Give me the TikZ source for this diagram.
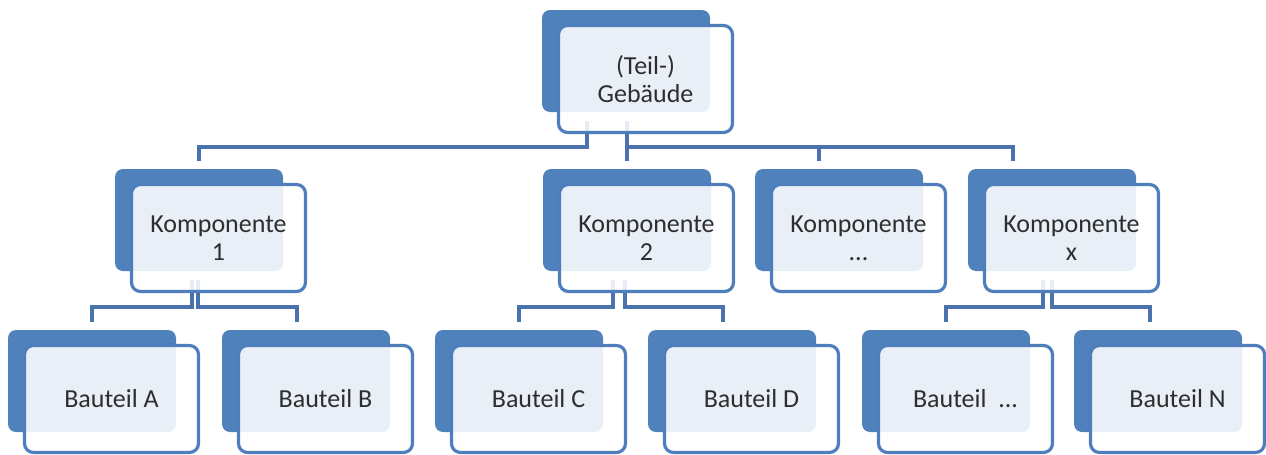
\documentclass[tikz,border=0pt]{standalone}
\usepackage{fontspec}
\setmainfont{Carlito}
\usetikzlibrary{backgrounds,calc}
\definecolor{darkblue}{HTML}{4F81BD}
\definecolor{rimblue}{HTML}{4F7EBD}
\definecolor{linkblue}{HTML}{4A72AD}
\definecolor{txtgray}{HTML}{2E2E2E}
\newcommand\tierbox[4]{%
  \node[backbox] (#1b) at (#2+84,#3+51) {};
  \node[frontbox] (#1) at (#2+103.5,#3+69) {#4};
}
\begin{document}
\begin{tikzpicture}[x=1pt,y=-1pt,
  backbox/.style={fill=darkblue, rounded corners=8pt, minimum width=168pt, minimum height=102pt, inner sep=0pt, outer sep=0pt},
  frontbox/.style={draw=rimblue, line width=3.2pt, fill=white, fill opacity=0.88, text opacity=1, rounded corners=9pt, minimum width=174pt, minimum height=107pt, inner sep=0pt, outer sep=0pt, align=center, text=txtgray, font=\fontsize{26}{28}\selectfont},
  conn/.style={draw=linkblue, line width=4pt, line join=miter}]
\useasboundingbox (0,0) rectangle (1266,455);
\tierbox{G}{542}{10}{(Teil-)\\Gebäude}
\tierbox{K1}{115}{169}{Komponente\\1}
\tierbox{K2}{543}{169}{Komponente\\2}
\tierbox{K3}{755}{169}{Komponente\\...}
\tierbox{K4}{968}{169}{Komponente\\x}
\tierbox{B1}{8}{330}{Bauteil A}
\tierbox{B2}{222}{330}{Bauteil B}
\tierbox{B3}{435}{330}{Bauteil C}
\tierbox{B4}{648}{330}{Bauteil D}
\tierbox{B5}{862}{330}{Bauteil\ \ ...}
\tierbox{B6}{1074}{330}{Bauteil N}
\begin{scope}[on background layer]
  \coordinate (yl1) at (0,147);
  \coordinate (yl2) at (0,307);
  \coordinate (g1) at ([xshift=-58.5pt,yshift=12pt]G.south);
  \coordinate (g2) at ([xshift=-18.5pt,yshift=12pt]G.south);
  \coordinate (k1t) at ([yshift=8pt]K1b.north);
  \coordinate (k2t) at ([yshift=8pt]K2b.north);
  \coordinate (k3t) at ([xshift=-20pt,yshift=8pt]K3b.north);
  \coordinate (k4t) at ([xshift=-39pt,yshift=8pt]K4b.north);
  \draw[conn] (g1) -- (g1 |- yl1) -| (k1t);
  \draw[conn] (g2) -- (g2 |- yl1) -| (k4t);
  \draw[conn] (g2) -- (g2 |- k2t);
  \draw[conn] (k3t |- yl1) -- (k3t);
  % Komponente 1
  \coordinate (k1a) at ([xshift=-26.5pt,yshift=12pt]K1.south);
  \coordinate (k1c) at ([xshift=-20.5pt,yshift=12pt]K1.south);
  \draw[conn] (k1a) -- (k1a |- yl2) -| ([yshift=8pt]B1b.north);
  \draw[conn] (k1c) -- (k1c |- yl2) -| ([xshift=-9pt,yshift=8pt]B2b.north);
  % Komponente 2
  \coordinate (k2a) at ([xshift=-33.5pt,yshift=12pt]K2.south);
  \coordinate (k2c) at ([xshift=-21.5pt,yshift=12pt]K2.south);
  \draw[conn] (k2a) -- (k2a |- yl2) -| ([yshift=8pt]B3b.north);
  \draw[conn] (k2c) -- (k2c |- yl2) -| ([xshift=-9pt,yshift=8pt]B4b.north);
  % Komponente x
  \coordinate (k4a) at ([xshift=-28.5pt,yshift=12pt]K4.south);
  \coordinate (k4c) at ([xshift=-19.5pt,yshift=12pt]K4.south);
  \draw[conn] (k4a) -- (k4a |- yl2) -| ([yshift=8pt]B5b.north);
  \draw[conn] (k4c) -- (k4c |- yl2) -| ([xshift=-8pt,yshift=8pt]B6b.north);
\end{scope}
\end{tikzpicture}
\end{document}
